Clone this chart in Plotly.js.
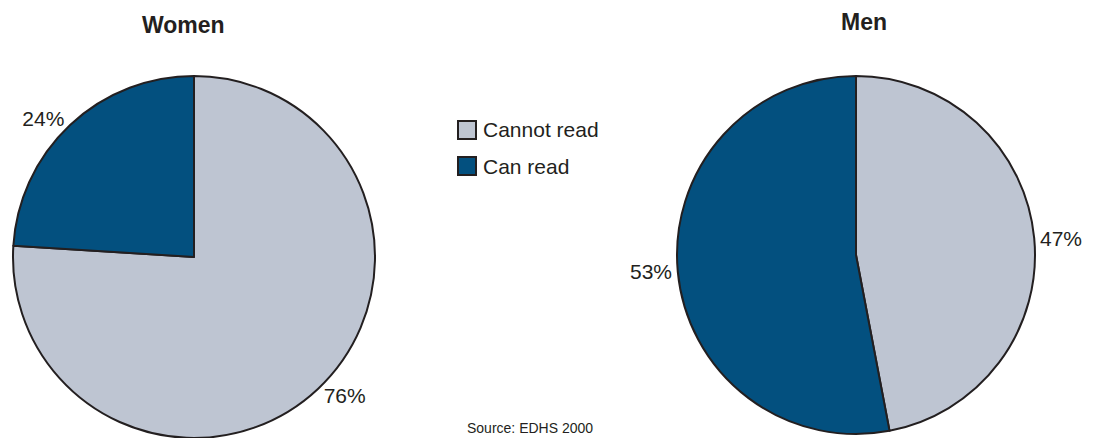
<!DOCTYPE html>
<html>
<head>
<meta charset="utf-8">
<script src="https://cdn.plot.ly/plotly-3.0.1.min.js"></script>
<style>html,body{margin:0;padding:0;background:#fff;}#chart{width:1093px;height:438px;}</style>
</head>
<body>
<div id="chart"></div>
<script>
// Data
const categories = ["Cannot read", "Can read"];
const womenValues = [76, 24];
const menValues = [47, 53];
const panelTitles = ["Women", "Men"];
const sourceNote = "Source: EDHS 2000";

const sliceColors = ["#BEC5D2", "#03507F"];
const ink = "#231f20";
const labelFont = {family: "Liberation Sans, Arial, sans-serif", size: 21, color: ink};

function pieTrace(values, domain) {
  return {
    type: "pie",
    labels: categories,
    values: values,
    sort: false,
    direction: "clockwise",
    rotation: 0,
    domain: domain,
    marker: {colors: sliceColors, line: {color: ink, width: 2}},
    textinfo: "percent",
    texttemplate: "%{percent:.0%}",
    textposition: "outside",
    outsidetextfont: labelFont,
    hoverinfo: "label+percent",
    showlegend: false,
    automargin: false
  };
}

const W = 1093, H = 438;
const data = [
  pieTrace(womenValues, {x: [13 / W, 375 / W], y: [0, 1 - 76 / H]}),
  pieTrace(menValues, {x: [677 / W, 1035 / W], y: [1 - 434 / H, 1 - 76 / H]})
];

const annotations = [
  {text: "<b>" + panelTitles[0] + "</b>", x: 183 / W, y: 1 - 25 / H},
  {text: "<b>" + panelTitles[1] + "</b>", x: 864 / W, y: 1 - 22 / H}
].map(a => Object.assign(a, {xref: "paper", yref: "paper", showarrow: false,
  xanchor: "center", yanchor: "middle",
  font: {family: "Liberation Sans, Arial, sans-serif", size: 23, color: ink}}));

// Legend (drawn manually for larger swatches)
const shapes = [];
const legendY = [130, 166];
categories.forEach((c, i) => {
  shapes.push({type: "rect", xref: "paper", yref: "paper",
    x0: 458 / W, x1: 476 / W, y0: 1 - (legendY[i] + 9) / H, y1: 1 - (legendY[i] - 9) / H,
    fillcolor: sliceColors[i], line: {color: ink, width: 2}});
  annotations.push({text: c, xref: "paper", yref: "paper", x: 481 / W, y: 1 - legendY[i] / H,
    xanchor: "left", yanchor: "middle", showarrow: false,
    font: {family: "Liberation Sans, Arial, sans-serif", size: 21, color: ink}});
});

annotations.push({text: sourceNote, xref: "paper", yref: "paper", x: 530 / W, y: 1 / H,
  xanchor: "center", yanchor: "bottom", showarrow: false, borderpad: 0,
  font: {family: "Liberation Sans, Arial, sans-serif", size: 14, color: ink}});

const layout = {
  width: W, height: H,
  margin: {l: 0, r: 0, t: 0, b: 0},
  paper_bgcolor: "#ffffff",
  showlegend: false,
  annotations: annotations,
  shapes: shapes
};

Plotly.newPlot("chart", data, layout, {displayModeBar: false, staticPlot: true});
</script>
</body>
</html>
